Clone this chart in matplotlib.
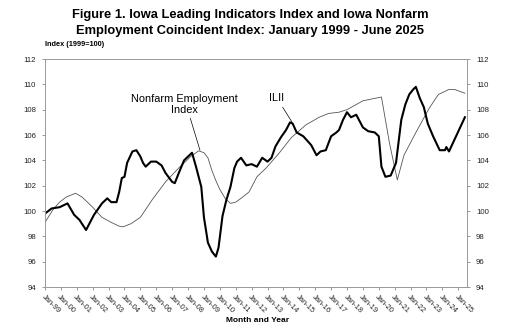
import matplotlib
matplotlib.use("Agg")
import matplotlib.pyplot as plt
import numpy as np

plt.rcParams['font.family'] = ['Liberation Sans', 'DejaVu Sans']

# Iowa Leading Indicators Index (ILII), 1999=100
ilii_dates = [
    "1999-01", "1999-06", "1999-12", "2000-06", "2000-11", "2001-03", "2001-08",
    "2002-02", "2002-08", "2002-12", "2003-03", "2003-07", "2003-09", "2003-11",
    "2004-01", "2004-03", "2004-07", "2004-10", "2005-01", "2005-03", "2005-05",
    "2005-09", "2006-01", "2006-05", "2006-08", "2007-01", "2007-03", "2007-06",
    "2007-10", "2008-02", "2008-04", "2008-07", "2008-11", "2009-01", "2009-04",
    "2009-07", "2009-10", "2009-12", "2010-03", "2010-06", "2010-09", "2010-12",
    "2011-02", "2011-05", "2011-09", "2012-01", "2012-05", "2012-09", "2013-01",
    "2013-04", "2013-07", "2013-11", "2014-03", "2014-06", "2014-08", "2014-11",
    "2015-04", "2015-10", "2016-02", "2016-05", "2016-09", "2017-01", "2017-05",
    "2017-07", "2017-10", "2018-01", "2018-04", "2018-08", "2019-01", "2019-05",
    "2019-10", "2020-01", "2020-03", "2020-06", "2020-10", "2021-02", "2021-06",
    "2021-09", "2021-12", "2022-03", "2022-05", "2022-08", "2022-11", "2023-02",
    "2023-06", "2023-11", "2024-03", "2024-04", "2024-06", "2024-10", "2025-02",
    "2025-06",
]
ilii_values = [
    99.8, 100.2, 100.3, 100.6, 99.7, 99.3, 98.5,
    99.7, 100.6, 101.0, 100.7, 100.7, 101.5, 102.6,
    102.7, 103.8, 104.7, 104.8, 104.3, 103.8, 103.5,
    103.9, 103.9, 103.6, 103.0, 102.3, 102.2, 103.0,
    104.0, 104.4, 104.6, 103.5, 101.9, 99.5, 97.5,
    96.8, 96.4, 97.1, 99.6, 100.9, 101.9, 103.4,
    103.9, 104.2, 103.6, 103.7, 103.5, 104.2, 103.9,
    104.2, 105.1, 105.8, 106.4, 107.0, 106.9, 106.2,
    105.9, 105.2, 104.4, 104.7, 104.8, 105.9, 106.2,
    106.4, 107.2, 107.8, 107.4, 107.6, 106.6, 106.3,
    106.2, 105.9, 103.5, 102.7, 102.8, 103.8, 107.2,
    108.4, 109.2, 109.6, 109.8, 108.9, 108.2, 106.9,
    105.9, 104.8, 104.8, 105.05, 104.7, 105.6, 106.5,
    107.4,
]

# Iowa Nonfarm Employment Coincident Index, 1999=100
nonfarm_dates = [
    "1999-01", "1999-07", "1999-12", "2000-05", "2000-12", "2001-05", "2002-01",
    "2002-08", "2003-03", "2003-09", "2003-12", "2004-06", "2005-01", "2005-10",
    "2006-08", "2007-06", "2008-03", "2008-09", "2009-01", "2009-04", "2009-07",
    "2009-10", "2010-01", "2010-05", "2010-09", "2011-01", "2011-05", "2011-11",
    "2012-05", "2012-12", "2013-10", "2014-07", "2015-06", "2016-04", "2016-11",
    "2017-07", "2018-01", "2019-01", "2020-03", "2020-09", "2021-03", "2021-08",
    "2022-05", "2023-03", "2023-10", "2024-06", "2024-10", "2025-06",
]
nonfarm_values = [
    99.1, 100.1, 100.7, 101.1, 101.4, 101.1, 100.3,
    99.5, 99.1, 98.8, 98.75, 99.0, 99.5, 100.9,
    102.3, 103.4, 104.3, 104.75, 104.6, 104.2, 103.2,
    102.4, 101.7, 101.0, 100.6, 100.7, 101.0, 101.5,
    102.7, 103.4, 104.6, 105.8, 106.8, 107.4, 107.7,
    107.8, 108.0, 108.7, 109.0, 105.4, 102.45, 104.4,
    106.2, 108.1, 109.2, 109.6, 109.6, 109.3,
]

tick_years = list(range(1999, 2026))
tick_labels = ["Jan-%02d" % (y % 100) for y in tick_years]
y_ticks = list(range(94, 113, 2))


def to_year(s):
    y, m = s.split("-")
    return int(y) + (int(m) - 1) / 12.0


ilii_x = np.array([to_year(d) for d in ilii_dates])
nonfarm_x = np.array([to_year(d) for d in nonfarm_dates])

fig = plt.figure(figsize=(5.12, 3.33), dpi=100)
ax = fig.add_axes([45 / 512, 1 - 287 / 333, 422 / 512, 228 / 333])

ax.plot(nonfarm_x, nonfarm_values, color="#555555", lw=0.6)
ax.plot(ilii_x, ilii_values, color="black", lw=1.5)

ax.set_xlim(1999, 2025.55)
ax.set_ylim(94, 112)
ax.set_yticks(y_ticks)
ax.set_xticks(tick_years)
ax.set_xticklabels(tick_labels, rotation=-45, ha="left", va="top",
                   rotation_mode="anchor", fontsize=5.4, color="#222222")
ax.tick_params(axis="x", length=2.5, width=0.6, color="#888888", pad=2.5)
ax.tick_params(axis="y", length=2.5, width=0.6, color="#888888",
               labelsize=5.6, labelcolor="#222222", pad=4,
               left=True, right=True, labelleft=True, labelright=True)
for sp in ax.spines.values():
    sp.set_color("#999999")
    sp.set_linewidth(0.7)

fig.text(250 / 512, 1 - 15 / 333,
         "Figure 1. Iowa Leading Indicators Index and Iowa Nonfarm",
         ha="center", va="center", fontsize=9.3, fontweight="bold")
fig.text(250 / 512, 1 - 31 / 333,
         "Employment Coincident Index: January 1999 - June 2025",
         ha="center", va="center", fontsize=9.3, fontweight="bold")
fig.text(45 / 512, 1 - 44 / 333, "Index (1999=100)",
         ha="left", va="center", fontsize=5.3, fontweight="bold")
fig.text(258 / 512, 1 - 320 / 333, "Month and Year",
         ha="center", va="center", fontsize=6.0, fontweight="bold")

ax.annotate("Nonfarm Employment\nIndex", xy=(2008.75, 104.8),
            xytext=(2007.75, 108.4), ha="center", va="center",
            fontsize=7.9, linespacing=1.2,
            arrowprops=dict(arrowstyle="-", color="black", lw=0.5,
                            shrinkA=0, shrinkB=0, relpos=(0.55, 0.0)))
ax.annotate("ILII", xy=(2014.55, 107.0), xytext=(2013.6, 108.9),
            ha="center", va="center", fontsize=7.9,
            arrowprops=dict(arrowstyle="-", color="black", lw=0.5,
                            shrinkA=1, shrinkB=0))

fig.savefig("out.png", dpi=100)
